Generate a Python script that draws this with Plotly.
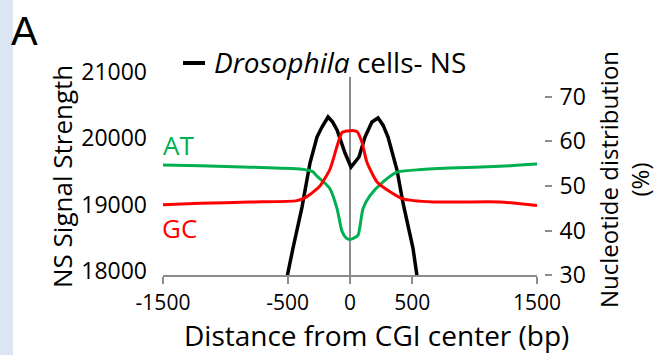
import plotly.graph_objects as go

# ---------------- data ----------------
ns_x = [-540, -505, -457, -385, -321, -265, -225, -176, -140, -104, -40, 8, 72, 120, 176, 225, 265, 305, 377, 425, 505, 537, 570]
ns_y = [17500, 17910, 18347, 18965, 19629, 20021, 20172, 20323, 20250, 20127, 19780, 19569, 19720, 20021, 20247, 20308,
        20200, 20021, 19523, 19026, 18347, 17894, 17500]

at_x = [-1500, -1200, -802, -401, -300, -265, -200, -160, -104, -64, -30, 0, 30, 64, 104, 160, 265, 377, 537, 800, 1203, 1500]
at_y = [54.7, 54.5, 54.2, 53.8, 53.2, 52.2, 50.6, 49.3, 44.9, 39.8, 38.3, 38.0, 38.3, 38.9, 44.9, 47.8, 50.9, 53.1,
        53.6, 54.0, 54.4, 54.9]

gc_x = [-1500, -1200, -802, -425, -345, -241, -160, -104, -64, -30, 0, 30, 56, 96, 136, 217, 321, 425, 666, 900, 1203, 1500]
gc_y = [45.8, 46.1, 46.4, 46.7, 47.6, 50.0, 53.8, 58.9, 62.0, 62.3, 62.4, 62.4, 62.2, 59.8, 55.3, 50.9, 48.7, 47.1,
        46.4, 46.4, 46.4, 45.6]

x_ticks = [-1500, -500, 0, 500, 1500]
y_left_ticks = [18000, 19000, 20000, 21000]
y_right_ticks = [30, 40, 50, 60, 70]

W, H = 658, 355
L, R, T, B = 163, 114, 70, 79
pw, ph = W - L - R, H - T - B


def px(x):
    return (x - L) / pw


def py(y):
    return (H - B - y) / ph


FONT = "Open Sans"
GREEN = "#00b050"
RED = "#ff0000"
GRAY = "#8c8c8c"

fig = go.Figure()
fig.add_trace(go.Scatter(x=at_x, y=at_y, yaxis="y2", mode="lines", line=dict(color=GREEN, width=3, shape="spline", smoothing=0.6), showlegend=False))
fig.add_trace(go.Scatter(x=gc_x, y=gc_y, yaxis="y2", mode="lines", line=dict(color=RED, width=3, shape="spline", smoothing=0.6), showlegend=False))
fig.add_trace(go.Scatter(x=ns_x, y=ns_y, mode="lines", line=dict(color="black", width=3.5), showlegend=False))

fig.update_layout(
    width=W, height=H,
    margin=dict(l=L, r=R, t=T, b=B, pad=0),
    paper_bgcolor="white", plot_bgcolor="white",
    font=dict(family=FONT, color="black", size=24),
    xaxis=dict(range=[-1500, 1556], tickvals=x_ticks, ticktext=[str(v) for v in x_ticks],
               showgrid=False, zeroline=False, showline=False,
               ticks="outside", ticklen=7, tickwidth=2, tickcolor=GRAY,
               tickfont=dict(size=21), ticklabelstandoff=1),
    yaxis=dict(range=[17925, 21032], tickvals=y_left_ticks, ticktext=[str(v) for v in y_left_ticks],
               showgrid=False, zeroline=False, showline=False,
               ticks="", tickfont=dict(size=23), ticklabelstandoff=15),
    yaxis2=dict(range=[29.8, 76], overlaying="y", side="right", tickvals=y_right_ticks,
                ticktext=[str(v) for v in y_right_ticks],
                showgrid=False, zeroline=False, showline=False,
                ticks="outside", ticklen=7, tickwidth=2, tickcolor=GRAY,
                tickfont=dict(size=23), ticklabelstandoff=3),
)

shapes = [
    # left light-blue stripe
    dict(type="rect", xref="paper", yref="paper", x0=px(0), x1=px(13), y0=py(H + 5), y1=py(-5),
         fillcolor="#dce6f2", line=dict(width=0), layer="below"),
    # x axis line
    dict(type="line", xref="x", yref="paper", x0=-1500, x1=1500, y0=0, y1=0, line=dict(color=GRAY, width=2)),
    # vertical line at 0
    dict(type="line", xref="x", yref="paper", x0=0, x1=0, y0=0, y1=py(77), line=dict(color=GRAY, width=2),
         layer="below"),
    # legend sample line
    dict(type="line", xref="paper", yref="paper", x0=px(183), x1=px(205), y0=py(63), y1=py(63),
         line=dict(color="black", width=4)),
]
fig.update_layout(shapes=shapes)

ann = [
    dict(text="A", x=px(24), y=py(31), font=dict(size=40, family="Liberation Sans")),
    dict(text="<i>Drosophila</i> cells- NS", x=px(212), y=py(62), xanchor="left", font=dict(size=28)),
    dict(text="AT", x=px(178), y=py(145), font=dict(size=26, color=GREEN)),
    dict(text="GC", x=px(179), y=py(228), font=dict(size=26, color=RED)),
    dict(text="NS Signal Strength", x=px(62), y=py(177), textangle=-90, font=dict(size=26)),
    dict(text="Nucleotide distribution<br>(%)", x=px(624), y=py(180), textangle=-90, font=dict(size=24)),
    dict(text="Distance from CGI center (bp)", x=px(376), y=py(335), font=dict(size=28)),
]
for a in ann:
    a.update(xref="paper", yref="paper", showarrow=False)
    a.setdefault("xanchor", "center")
    a["yanchor"] = "middle"
fig.update_layout(annotations=ann)

fig.write_html("out.html")
